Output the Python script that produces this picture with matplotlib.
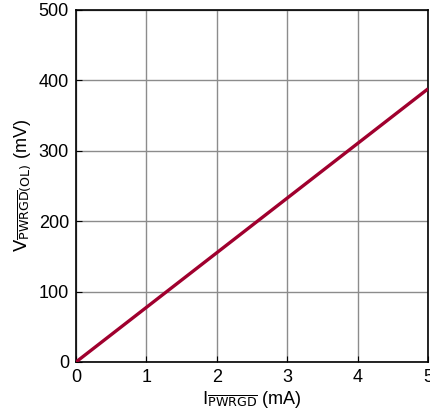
import matplotlib
matplotlib.use('Agg')
import matplotlib.pyplot as plt

# I_PWRGD (mA) vs V_PWRGD(OL) (mV)
i_pwrgd = [0, 5]
v_pwrgd = [0, 388]

x_ticks = [0, 1, 2, 3, 4, 5]
y_ticks = [0, 100, 200, 300, 400, 500]

fam = ['Liberation Sans Narrow', 'Liberation Sans', 'DejaVu Sans']
plt.rcParams['font.family'] = fam
plt.rcParams['mathtext.fontset'] = 'custom'
plt.rcParams['mathtext.rm'] = fam[0]
plt.rcParams['mathtext.it'] = fam[0]
plt.rcParams['mathtext.bf'] = fam[0]

fig = plt.figure(figsize=(4.31, 4.20), dpi=100)
ax = fig.add_axes([76 / 431, 58 / 420, 352 / 431, 352 / 420])

ax.plot(i_pwrgd, v_pwrgd, color='#A0002E', lw=2.4, solid_capstyle='butt', zorder=3)

ax.set_xlim(0, 5)
ax.set_ylim(0, 500)
ax.set_xticks(x_ticks)
ax.set_yticks(y_ticks)
ax.grid(True, color='#8c8c8c', lw=1.0)
for s in ax.spines.values():
    s.set_linewidth(1.2)
    s.set_color('black')
ax.tick_params(direction='in', length=4, labelsize=13, pad=5, colors='black')

ax.set_xlabel(r'$\mathrm{I}_{\overline{\mathrm{PWRGD}}}$ (mA)', fontsize=13, labelpad=2)
ax.set_ylabel(r'$\mathrm{V}_{\overline{\mathrm{PWRGD}}\mathrm{(OL)}}$ (mV)', fontsize=13, labelpad=4)

fig.savefig('out.png', dpi=100)
